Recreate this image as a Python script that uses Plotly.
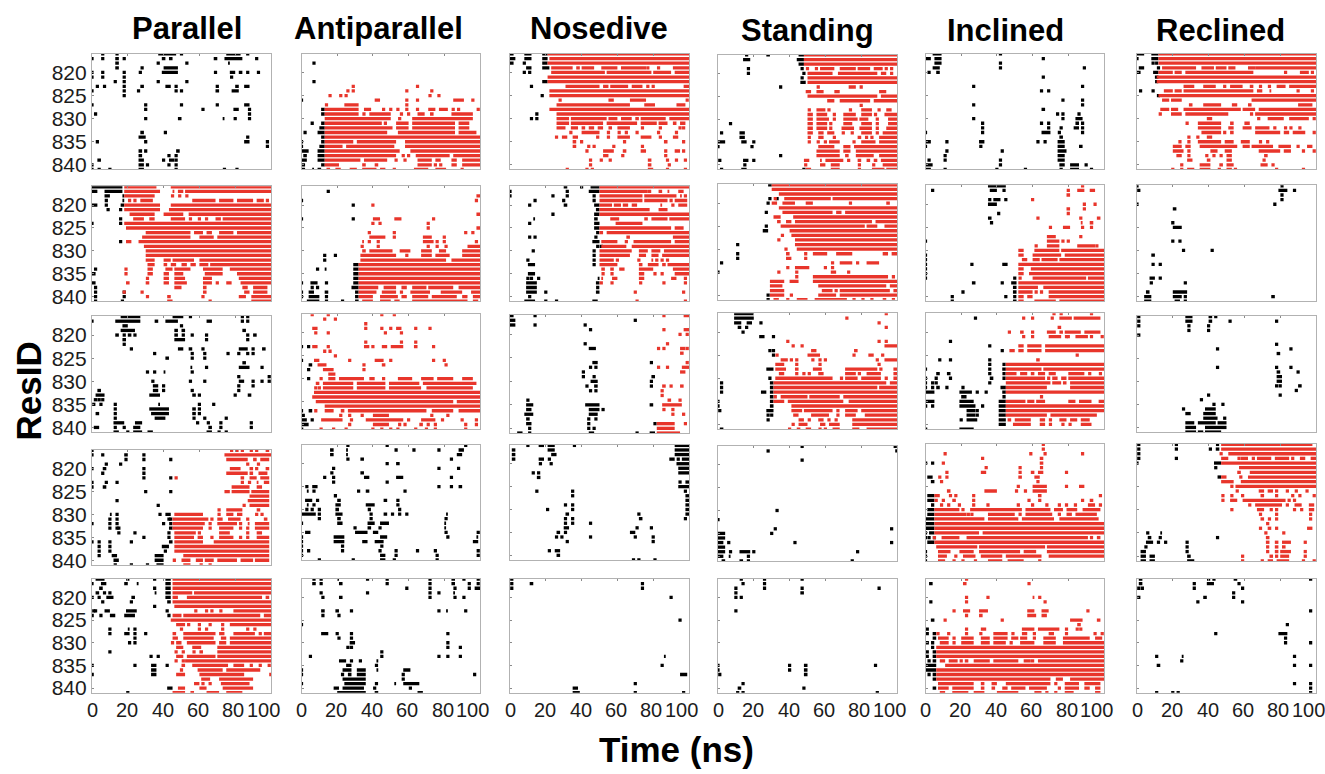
import plotly.graph_objects as go

COLUMN_TITLES = ["Parallel", "Antiparallel", "Nosedive", "Standing", "Inclined", "Reclined"]
X_TICKS = [0, 20, 40, 60, 80, 100]
X_LABELS = ["0", "20", "40", "60", "80", "100"]
Y_TICKS = [820, 825, 830, 835, 840]

# Each dict: ResID -> occupied times in ns ("a-b" is a contiguous run, "a" a single frame)
parallel_1_black = {816:"6 14 37-47 50 75-83 87",817:"0 6 13-15 18 39-41 43-45 68-70 74-84 92",818:"13-15 37 53 76-77",819:"13-15 28 40-48",820:"0 6 18 27 39-48 69 77-80 82-84 87 93",821:"0 6 18 78",822:"13 18 37 53",823:"3 7 18 27-29 41-44 47 70 80-82 85-88",824:"0 18 26 47 50 69-71 78-82",825:"18",827:"0 30 50 70 85-88",828:"30 62 79-82 88",829:"2 88",830:"30 48-50 73-74 80 88",833:"27-29 41",834:"26-30 87",835:"3 30 85-88 98",836:"98",837:"26-28 30 47-49",838:"26-28 43 47",839:"3-5 26-29 40 43-46 47",840:"0 26-29 31 43 47",841:"0 4 10 26-29 47 74 81"}
parallel_1_red = {}
antiparallel_1_black = {818:"7",822:"7",826:"0",828:"11-13",829:"11-13",831:"6 11-13",832:"10-13",833:"2 9-13",834:"11-13",835:"0 11-13",836:"0 10-13",837:"0-4 9-13",838:"1-3 9-13",839:"0-3 9-13",840:"0-2 11-13",841:"0-2 6-7 9-11"}
antiparallel_1_red = {823:"29 65",824:"26 29 59 73",825:"16 22 25 72 77",826:"41-44 59 65 85-91 96",827:"14 24-32 59",828:"13-32 35-39 46 50 54 59 65 71-75 77-82 85 88 99",829:"13-32 35 38-50 56 60 65-69 72-74 84-96",830:"13-50 55 62-96",831:"13-45 47 53-60 62-86 88-94",832:"13-51 53-60 62-86 88-94",833:"13-48 54-86 88-98",834:"13-100",835:"13-29 31-53 58-100",836:"13-23 25-52 58-100",837:"13-55 61-100",838:"13-53 57 60 64-83 85-100",839:"13-33 35-48 53 58 65-73 75-78 84-87 90-100",840:"13-21 34-36 41-43 65-73 75 78 84-87 90-100",841:"14-16 19-22 27-31 34-42 44-47 52 63-71 75-81 90"}
nosedive_1_black = {816:"0-2 8-12 18-21",817:"0-3 8-12 18-21",818:"0-2 8 18-21",819:"9-12 18-22",820:"8 11",822:"18-21",823:"12",825:"18",829:"15",830:"12 15"}
nosedive_1_red = {816:"21-100",817:"22-100",818:"21-100",819:"23-35 37-39 40-47 51-60 62-76 77 83 91-100",820:"23-53 54-79 80-90 92-100",821:"21-100",822:"21-100",823:"31-50 52-55 56-66 68-74 77 80 97-100",824:"22-100",825:"22-100",826:"28 55-58 67-76 99",827:"26-67 75-81 93-98",828:"22-100",829:"26-100",830:"26-33 34-54 55-60 62-68 70-72 73-87 89-100",831:"26-33 34-52 54-71 73-82 83-88 91-93 95-98",832:"26-31 34-38 40-42 44-47 49-52 55-57 60-67 74 84 95 97",833:"34 40-50 55 61 65 71 83 93",834:"26 29-32 35-38 49 55 60-67 73-79 84 91-94",835:"35-37 40 64 86-88 97",836:"35-37 44 47 58 74",837:"43 52-58 63-65 73-76 87 92-95 97",838:"52-55 63 87",839:"45 51 56 77-79 88 93 98",840:"45 77-79 89",841:"32 43 46 77-80 88 98"}
standing_1_black = {816:"16 27-29 45-48",817:"14-18 44-48",818:"45-48",819:"17 47",820:"17 48",821:"47",822:"46-49",823:"35",831:"7",833:"2 12-15",834:"12-15",835:"0-4 13-16 20",836:"0 19",838:"35",839:"1 14-17 20",840:"15",841:"2 13-16 48"}
standing_1_red = {816:"48-100",817:"48-100",818:"48-100",819:"50 55 57-65 68-77 78-85 87-92 94 97",820:"50-64 67-89 91-94 97",821:"50-100",822:"50-100",823:"56 73-77 80",824:"49-52 55-59 65-68 90-94",825:"50-89 91-100",826:"61-65 68-85 87-100",827:"80",828:"51 55-60 62 74 80-86 90 94-97",829:"50-53 55-61 65 70-77 80-86 88 93-100",830:"50-53 55-62 65 70-78 79-84 89 95-100",831:"50-53 55-61 63 70-75 80-86 89 95-100",832:"50-53 55-61 63 69-76 79-86 89 94-100",833:"50-53 56-59 61-65 70 75 80-86 89 92-100",834:"51 56-59 65 78-80 83 86 90-100",835:"51 56 60 62-68 76 80-88 90-100",836:"56-65 70-74 76-100",837:"55-68 70-74 77-100",838:"55-68 71-73 77-87 90-100",839:"48-51 57-58 60-70 73 78-80 83-85 87-89 91-100",840:"49 57-60 63-68 79 87 92-100",841:"49-52 63-68 79 86-93 94-100"}
inclined_1_black = {816:"4-9 42",817:"0-3 5-9 66",818:"5-9 42",819:"4-8 42 89",820:"2 6-8",821:"66",823:"27 88",824:"65 69",826:"77 88",827:"27 88",828:"65-67",829:"74 77 86",830:"27 77 84-88",831:"32 65 69 84-86 88",832:"32 69 76 83-86 88",833:"0 32 65-70 75 88",834:"75-77",835:"0-3 12 30-33 63 67 74-78",836:"0 31 74-78 86-88",837:"12 43 74-79",838:"11 74-78",839:"2 11 42 74-78",840:"0-4 42 75-78 81-86 90",841:"0-3 11 40 56 76 81-86 93"}
inclined_1_red = {}
reclined_1_black = {816:"0-4 8-12",817:"0 8-12",818:"9 11",819:"1-4 12",820:"0-2 9-12",821:"10-12",822:"11",824:"2 9",825:"12"}
reclined_1_red = {816:"12-100",817:"12-100",818:"12-100",819:"14-33 36-43 44-50 51-55 62-66 66-100",820:"12-20 21-25 27-65 83 91-96 98",821:"11-100",822:"11-100",823:"26-32 37-44 49 52-59 63-65 69 74 78-83 85-100",824:"15-20 21-25 26-65 67-70 74-75 90 98",825:"12-100",826:"14-18 19-25 64-100",827:"29-31 37-47 53-56 62-64 90-98",828:"13-18 19-23 26-58 59-66 68-100",829:"13 19-25 27-51 64 66-100",830:"39-42 68 73-82 85-96 99",831:"28 34-47 52-54 60-63",832:"34-47 51-54 59-64 66-74 77 83 86 91",833:"36-47 49 52-54 66-80 82-85 87-94 99",834:"29 34 39-42",835:"24 29 34-47 49-54 58-63 69 73",836:"20-25 27-30 35-56 59-63 64-76 79-86 90 95-98",837:"20-26 29 41-45 49-53 68-80 82-86 93 99",838:"22-25 29 39 43 47 50-53 71-73",839:"28-31 39-41 50-53 71",840:"25 35-41 46-48 50-54 69-73 76",841:"20 25 28-32 35-41 46 50-53 55 78 93"}

parallel_2_black = {816:"0-17",817:"0-3 7-17",818:"7-10 17-18",819:"8 17-18",820:"0-3 8 16-18",821:"9 16",823:"16",824:"0 16",828:"16",834:"2",835:"0-2",837:"0-2",838:"2",839:"2 18",840:"2 18",841:"2 17"}
parallel_2_red = {816:"18-36 44-100",817:"18-38 45-46 48-51 52-100",818:"18-35 45 49 53",819:"21 24 27-34 56-69 71-79 81-90 92-96 98",820:"18-38 44-100",821:"18-38 43-100",822:"21-35 40-51 54-100",823:"23-29 32-35 44-52 55 60 64 69-72 73-100",824:"18-100",825:"19-100",826:"30-55 57-62 64-67 71-79 81-100",827:"28-55 60-68 70-100",828:"19-22 26-100",829:"29-100",830:"30-100",831:"30-100",832:"30-35 40-44 45-57 60-100",833:"31-35 40-42 44-47 50-53 55-58 60-65 66-100",834:"19 31-34 41-45 46-55 62-73 77-100",835:"19 31-34 40-43 46-51 63-73 81-100",836:"31 40-43 46-52 62-67 82-100",837:"19-21 30-32 40-43 46-53 62-67 70 75-78 83-100",838:"46-50 62-64 84-87 90-98",839:"18 28 62-64 85-88 90-98",840:"31 42-44 62 82-86 89-100",841:"42-45 66 89-100"}
antiparallel_2_black = {817:"15",819:"0",820:"29",823:"0 29",831:"13 19",832:"13",833:"29-32",834:"9 13-14 29-32",835:"29-32",836:"29-32",837:"0 5-9 14 29-32",838:"6 9 28-32",839:"0 4-7 13-15 30-32",840:"0 4-10 14 30-32",841:"3-10 14 23 30-32"}
antiparallel_2_red = {818:"98-100",819:"98",820:"40",822:"98-100",823:"40-44 52-56 74",824:"40 44 71",825:"71 98-100",826:"38 52 92 96",827:"38-47 52 68-73 80",828:"34-35 38 43 68-74 76 80 98",829:"34 43 71 76 81 93-100",830:"34-36 38-51 55-61 67-73 77-81 90-100",831:"33-53 59 67-73 75-83 90-100",832:"33-81 84-100",833:"32-100",834:"32-100",835:"32-100",836:"32-100",837:"32-100",838:"32-43 46-53 56-59 62-70 71-85 88-100",839:"32-42 45-53 56 61-72 78-90 95-100",840:"32-40 44-54 56-59 62-71 73-87 90-93 96-100",841:"34-40 44-50 52-55 62-93 96-99"}
nosedive_2_black = {816:"30-32 40 45-50",817:"0 32 44-50",818:"0 24 32 47",819:"14 30 47",820:"11 30-32 47-50",821:"48-50",822:"24 47-50",823:"13-14 47-49",824:"11 47-50",825:"47-50",826:"49",827:"11 14 48",828:"46-50",829:"49 51",830:"13 47",831:"47",832:"10 47",833:"10-14 47",835:"10-14",836:"10 12 16 49-50",837:"9-15 48-50",838:"9-15 49",839:"9-15 20 48-50",840:"11",841:"8-14 20 26 46-49"}
nosedive_2_red = {816:"50-100",817:"50-77 78 83-85 88-89 94-97",818:"50-74 75-93 95-96 98",819:"50-74 75-88 90 92-99",820:"50-57 58-62 63-66 68-71 84-85 91 94-99",821:"50-78 83-88",822:"50-100",823:"56-61 75-77 79-88 89-100",824:"59-74",825:"50-90 92-97",826:"50-52 54-100",827:"65-67 91-100",828:"51-60 65 69-90 92-100",829:"51-65 68-100",830:"50-68 72-77 79-84 86-100",831:"50-67 72-76 79-83 85-100",832:"50-58 60 72 79-80 82 85 88",833:"50-60 72-74 77-83 85-87 88-100",834:"51-53 56-58 61-64 72-80 91-100",835:"52 57 72-75 81 85 92-100",836:"51-52 57-60 72-75 90-93 98",837:"51 57 73 86 98",839:"70 97",841:"71 98"}
standing_2_black = {816:"28-30",819:"29 33",820:"28",822:"27",825:"27",826:"25-28",829:"11",831:"11",832:"11",833:"2",835:"0",840:"28",841:"28"}
standing_2_red = {816:"30-100",817:"30-100",818:"34-100",819:"32 37-63 64-100",820:"30-33 36-43 49-53 74 94-96",821:"34-100",822:"36-64 66-69 71-100",823:"31-35 42-100",824:"33-35 38-41 43-86 88-100",825:"35-82 83-89 93-100",826:"40-100",827:"36 41-100",828:"34 43-100",829:"43-100",830:"38 44-100",831:"38-40 49 53-61 66-75 92-95 97-100",832:"38-41 49",833:"64 68-75 78 83-90",834:"39 43-51 60 64",835:"34 44 63-66 73",836:"44 53-95 98",837:"29-37 40-45 53-100",838:"29-36 56-94 96-100",839:"29-37 58-64 66 68-96 98-100",840:"29-37 41 56-66 68-100",841:"31-34 39 44-50 54-72 76 81 86 92-94 98"}
inclined_2_black = {816:"35-45",817:"4 36-40 44",819:"36 38-42 45",820:"35-40",822:"41",823:"35-37",824:"37",828:"0",831:"0",832:"0",833:"0 26 43-46",834:"0",835:"0",836:"0 50",837:"26-28 43 48-51",838:"49-51",839:"21 49-51",840:"15 45 50",841:"15 49-51"}
inclined_2_red = {816:"88",817:"80 85-89 92-95",818:"79-81",819:"60",820:"89 95",821:"79-81 89",822:"80",823:"63 87 96-98",824:"87-88 92-94",825:"70 77-81 88 93",827:"68-73 87",828:"68-75 77 80",829:"62 68-75 85-95 96",830:"52-55 61-75 76-100",831:"52-55 60-76 78-100",832:"54-57 60-64 65-74 75-100",833:"52-100",834:"52-55 59-100",835:"52-55 58-100",836:"53 60-90 91-100",837:"52-100",838:"52-63 66-100",839:"52-60 62 65 69-100",840:"52-55 57-60 69-100",841:"52-55 61-73 75-100"}
reclined_2_black = {816:"0 81",817:"1 79-84 88",818:"81",819:"81",820:"0 77",821:"20-22",824:"20",825:"20-25",828:"20 24",830:"26 42",831:"8-10",833:"9 13",836:"7-10 13",837:"8 27",839:"5-7 20-28",840:"4-8 20-25 27 75-77",841:"4-8 21-24 27"}
reclined_2_red = {}

parallel_3_black = {816:"16-27 45-51 55 84 87",817:"0 13-27 35-37 41-48 64-67 84 87",818:"17-20 50",819:"16-24 46-48 50-52 84-86",820:"13-15 18 20-22 24 46-48 51 56 64 87 90-92",821:"17-19 46-52 64 87",822:"18",823:"22 48-51 54-56 62 82-87 90 95-97",824:"35 56 63 76 82 87 90",825:"41-43 56 63",826:"84-86",827:"55-56 64 82-88 95",828:"31 35 40-41 56",829:"82 99",830:"34 55 63 82-85 90 95 99",831:"34-37 40 82 90",832:"3-5 34-37 40 56 82",833:"2-7 32-38 56-58 60 80 87-89",834:"1-3 4 6",835:"1 5 13 37-38 60 68",836:"13 32-43 56-58 60",837:"2-4 13 33-43 56-58 60",838:"13 35-41 57 63 75",839:"12-18 24-28 59 65 72 89",840:"1-4 13 18 23-27 65-67 72 89",841:"12-15 20 23-28 31-34 64-67 71 75"}
parallel_3_red = {}
antiparallel_3_black = {823:"0 4",826:"0",827:"4-6",828:"4",830:"4",837:"0 4-6",838:"1",839:"0-3 6",840:"0-4",841:"0-1"}
antiparallel_3_red = {816:"6 15 45 52",817:"13 19",818:"36",819:"6-9 36 45 50 53-56 64 72",820:"8 15 47 56",822:"36 56 64",823:"6-9 15 35-38 40 45-48 50-57 63-65 74",824:"13 16",825:"19",826:"7-10 27 41-46 50 74 80",827:"9-14 35 45-47 81",828:"12-18 35",829:"15-19",830:"11 15-19 21-35 38-41 46 54-62 67-74 76-85 90-96",831:"8-10 12-29 31-47 49-66 68-98",832:"8 10 12-29 31-47 49-67 70-96",833:"7-100",834:"6-100",835:"8-85 87-100",836:"13-100",837:"8 13-18 22-24 26-70 73-85 88-100",838:"22 27 34 40-49 73 82",839:"11-23 28 36-57 60 67-75 79 90 98",840:"27 40-49 55 58 66-68 71 75 92 98",841:"11 18 25 40 45 50 54 64 70 75 92"}
nosedive_3_black = {816:"0-2 14",817:"0-3 70",818:"0-3 14 42",819:"45",822:"42",823:"44-48",826:"46-49 79",827:"45 48",828:"41",829:"41 47 79-81",830:"45-49 79",831:"43 47-49 79",832:"45 48",834:"10",835:"9-13 42-50 78-80",836:"9-12 44-50 52",837:"8-13 44-49",838:"9-11 44 48",839:"9-12 44 81",840:"11 44 47",841:"4-7 11 44-47 71 78-81"}
nosedive_3_red = {816:"86 97-100",819:"86 97-100",820:"95 99",822:"88",823:"83 86 95-98 99",824:"95-97",826:"99",827:"83 88 96-100",828:"95-98",831:"85-87 90 95-97",832:"85",833:"85",834:"88-90 95",835:"85-96",836:"86 91",837:"91 97",839:"82-92 98",840:"82-92",841:"82-95"}
standing_3_black = {816:"9-20",817:"9-20",818:"9-13 16-19 24",819:"11-13 16",820:"14",821:"23-26 31",824:"29 31",825:"31",828:"27-31",830:"29",831:"2 29-31",832:"2 29-31",833:"2 24-27 29-31",834:"29-31",835:"0 29-31",836:"0 29-31",837:"1 27-31",838:"28 30",839:"28",841:"1-3"}
standing_3_red = {816:"94",817:"72",818:"90",819:"94",822:"39 90 94",823:"42 47 93-100",824:"52-55 76-78",825:"33 50-57 76 84-87 92",826:"35-39 41 44 53 57 60 89 93-100",827:"32-37 44 57 90",828:"32-38 43-45 53-58 71-89 91 98-100",829:"34-37 44 48 51 56-59 71-77 79 83-91 98-100",830:"32-64 69 71-78 80-91 94 98-100",831:"31-94 96-100",832:"31-89 90-100",833:"31-100",834:"32 35-50 51-68 70-100",835:"31-37 39-70 73-100",836:"41-100",837:"41-47 48-64 67 71-78 80-100",838:"42-45 52-62 67 71-77 82-100",839:"45-48 51 56-59 62 66 75-100",840:"42 45-50 57-60 62-68 75-100",841:"40 44-46 49-52 57 60 64-68 75-79 83-100"}
inclined_3_black = {817:"28",822:"14",823:"36",824:"43",826:"8 14 36",827:"36 44",828:"0 36 43-45",829:"6-8 12-14 36 44",830:"0 6 14 36-38 44",831:"0 4 6 36",832:"0 4 6-8 12 21 42-45",833:"0-5 19-26 29 34 43-45",834:"20-23 44",835:"0-5 19-27 41-45",836:"0-1 4 19-28 32 41-45",837:"23-28 29 41-45",838:"23-28 29 41-45",839:"20 23-29 41-45",840:"41-45",841:"0-1 19-27"}
inclined_3_red = {816:"72 76 93",817:"55 60 71 75-82 83-98",819:"74-76",820:"47 53-55 60 68-73 75-77 78-87 89-98",821:"55 60 69-76 79 80 84-91 93 99",823:"52-55 57-65 67-100",824:"47-50 52-55 57-65 67-100",825:"85",826:"62-64",827:"45-100",828:"45-65 66-100",829:"45-51 53-57 59-61 63-67 69-73 80-89 92 98",830:"45-67 69 71-74 76-79 80-100",831:"45-70 71-76 77-79 81-100",832:"45-68 81-100",833:"45-100",834:"65",835:"45-56 57-61 62-67 80-84 86-93 97-100",836:"45-100",837:"45-100",838:"45-68 70-96",839:"46-48 50-59 64-67 70 75-79 81-85 87-92",840:"49-59 64-67 70 77 81 87-93"}
reclined_3_black = {816:"1 27-31 40-42 44",817:"1 27-31 40-42 52 78",818:"1 29 40",819:"29 40",820:"1",822:"78",823:"45 86",824:"78-80",827:"45 78 86",828:"78-80 90",829:"78-81",830:"78-81",831:"78 80 90-92",832:"89",833:"40 80",834:"36",835:"43 48",836:"26 38-44",837:"27-30 37-44",838:"37-45 49",839:"27-32 34-44 45-50",840:"27-33 38-50",841:"27-33 34-37 38-47"}
reclined_3_red = {}

parallel_4_black = {816:"0",817:"0 6 18-20 29",818:"19 29 44",819:"8 16",820:"0 6-8 29",821:"6 29",822:"29 44",823:"0 8 14",824:"0 6-8",825:"30 44",827:"14",828:"37",830:"10-11 14 38 41-44",831:"10 14 43 44",832:"0 10 14 40 44",833:"10 14 15 43-45",834:"15 24 43",835:"29 43",836:"0 4 10 22 43-45",837:"4 10 39-43",838:"4 10 41",839:"4 11-14 35-40",840:"12-15 35-40",841:"13 22 31 36-40"}
parallel_4_red = {816:"78 81 84 89 92 97-99",817:"74-100",818:"75-87 90-92 94-99",819:"87 93",820:"77-83 88-90 92 97-99",821:"75-87 88-90 93-98",822:"47 83-85 88-92 94-99",823:"84 88 92-93 96-99",824:"78-88 92-95",825:"74-77 78-88 89-99",826:"88-99",827:"87-99",828:"85 88-99",829:"71 75-84 92-94",830:"46-62 71 75-79 81-84 92 95",831:"45-65 67 70-73 76-83 87 96-98",832:"45-63 66 70-81 83 87-88 91-99",833:"45-62 66 71-79 83 87 91-99",834:"46-58 60 71-77 87 92-95",835:"46-57 59-62 67 71-79 83 87 92-99",836:"46-62 68-99",837:"46-99",838:"46-99",839:"51-99",840:"46 50-55 58-62 63-68 70-81 83-90 91-99",841:"51-55 61 66"}
antiparallel_4_black = {816:"26 48 92",817:"16-18 25-26 53 63 77 88-91",818:"16-18 25-26 87-90",819:"26 33-35 84",820:"48 53-55",821:"18 77 88",822:"17 33-35",823:"13 18 35-38 53-57 84",824:"18 48",825:"3 6-9 77 84 88-90",826:"3-4 7 32 36-38 58",827:"19",828:"2-6 9 20-22 46-48 54",829:"3-4 7 19-22 36-41 54",830:"3 6 10 19-21 38 55",831:"0-8 10 19-23 39 46-48 51 55 59 81-82",832:"10 20-22 39 81",833:"0 20-23 37-41 44-49 80-81",834:"30 37-39 44 80-81",835:"2-5 30-37 40-43 81 99",836:"0 18-24 44-48 82 98-99",837:"0 18-24 34-37 41-46 96-99",838:"0 23 45",839:"0 4 23 44 53 65 75 99",840:"0 44-47 53 76 99",841:"10 29 44-47 52 76"}
antiparallel_4_red = {}
nosedive_4_black = {816:"10 16-19 21-25 36 92-100",817:"1-3 21-25 92-100",818:"1-3 23-26 92-100",819:"1-3 16-19 22 89-92 94 96-100",820:"17 23 93-100",821:"94-100",822:"13 16 94-100",823:"15-17",824:"95 98-100",825:"94-100",826:"15 35 98",827:"35 98-100",828:"98-100",829:"31 35 98-100",830:"21 35 98-100",831:"31-33 72 98-100",832:"31 35 72-74 98",833:"31 35 45",834:"30-33 71 79",835:"26-28 31 67-70",836:"26 29 45 70 80",837:"32 80",839:"22 25-28",840:"26-28",841:"69 72 81"}
nosedive_4_red = {}
standing_4_black = {816:"47 99",817:"28 99-100",819:"47",830:"33",832:"0",834:"32 97",835:"0-4 30",836:"0-4",837:"0-3 6 43 97",838:"0-4",839:"0-4 7 12-18 20 78",840:"0-3 6-7 17",841:"2-4 12-14 17 75"}
standing_4_red = {}
inclined_4_black = {820:"0-1 4",823:"1-4",824:"3-5",827:"1-5",828:"1-5",829:"4",830:"1-5",831:"1-5",832:"0-5",833:"0-5",834:"0-5",835:"0 2-5",836:"0 2 5",837:"1-5",839:"0",840:"0",841:"0"}
inclined_4_red = {816:"66",817:"66",818:"11 59 67 88",819:"32 64-66",820:"10 64-66",821:"34 53 65",822:"12 31-34 53 59-61 63-66 79",823:"8 12 52-54 61-64",824:"9 63",825:"52 60-68 79 86-89",826:"12-14 33-40 51 56 60-68",827:"5-8 14 17 27 63-65 98",828:"6 10 15-17 27 58 64 88 92-94",829:"9 13 19 27 35 52 60 68 75 79 84 91-95 98",830:"5-19 21 25-54 56-70 72-77 79-85 88-98",831:"5-23 24 26 35-50 53 56-71 75 79-82 84-96",832:"5-33 35-52 54-72 75-97",833:"5-100",834:"5-100",835:"5-30 32-100",836:"5 9-19 23-91 93 96-98",837:"5-100",838:"6-29 30-67 68-100",839:"7-14 19-27 30-53 55-62 68-100",840:"7-12 17 21-28 31-43 45-65 69-100",841:"7-11 16 21 28 35-43 46-55 64"}
reclined_4_black = {816:"1 22 45",817:"1 22 41 44-46",818:"1",819:"1 22",820:"0 43-47",821:"44",823:"45-47",835:"6 13-14",836:"6-8 13 45",837:"5-9 12 16 28",838:"5 28",839:"2-5 28",840:"2-5 7-10 28-30",841:"2-5 7-10 28-32"}
reclined_4_red = {816:"47-98",817:"47-100",818:"47 51-100",819:"47-51 57 58-62 65 67-75 77-85 87 91-94 97-100",820:"47-100",821:"57-100",822:"56-58 63-100",823:"47-50 58 62-100",824:"47-54 58-100",825:"53 55-100",826:"56 68-71 73-76 78 84 89 95",827:"48 53 59 69-71 78 87 91 99",828:"48 52-56 59-83 85 88",829:"63 66-81 84 88-92 96-99",830:"53 67-71 75 78 88 92 96-99",831:"69 78 97",832:"69-71 74 78 97",833:"73",834:"69 73-75 78 95-98",835:"72 82",836:"72-74",837:"72-74 77-79 81-86 94",838:"73 77-79 81-83",839:"73 77-79 80-86 94",840:"59 74-76 78 80-85 94",841:"59 70 73-76 78-85 93 99"}

parallel_5_black = {816:"2-7 20 35 41-44",817:"0 5-8 18-20 25-26 41-44",818:"4-6 35 41-44",819:"2-4 7 10 35-36 41-44",820:"0-1 4 8-12 22-24 41-44",821:"6 22 42-44",822:"35",823:"1 2 7-10 19-25 42",824:"0-1 5 10-13 18-24 43",827:"10 20-21 24",828:"10 18-21 24 30",829:"24",830:"21 24",832:"10",833:"33 37",835:"0-1 24 33-36 42",836:"33-36",837:"0-1 33-36",840:"42-45",841:"20"}
parallel_5_red = {816:"45-100",817:"45-100",818:"45-100",819:"45-56 57-100",820:"45-48 53-95 97-99",821:"45-100",822:"46-100",823:"58 64 67 72 79-100",824:"45-50 51-94 96-100",825:"44-100",826:"47-52 54 60 66 73 77-100",827:"50 60 64 73 87 91",828:"45-47 51-69 71-74 79-91 94 96-100",829:"45-48 51-68 72-75 77-100",830:"45 47-50 53-69 71-75 77-100",831:"47-51 56-61 70-100",832:"47 51 57 60-62 70-100",833:"47-51 53-69 70-100",834:"47 51 52-100",835:"50-52 56-76 79-85 89 94 99",836:"50 59-73 75-94",837:"47-52 60-85 99-100",838:"61-66 71-90",839:"57-60 62 66 72-88",840:"48-52 60-64 73-90",841:"45-52 55-57 64-71 75-84"}
antiparallel_5_black = {816:"7 11 20-21 37 48 72 84-86 91 99",817:"6-8 11 21-23 48 72 84-86 94 99",818:"59 72 86 94 97-100",819:"11 37 72 77 85-86",820:"12 21-23 72 86 91",823:"11-13 19-21 28 77 81-82 92",824:"12 21",826:"0",828:"11-15 20 28 82",829:"21 28",830:"27-30 82",831:"26 28 82 89",832:"45",833:"5 45 77 82 89",834:"21-25 28 33 42-43",835:"25-28 42",836:"0 23-28 31-36 42-43 57-61",837:"0 23 26-28 31-36 57 97",838:"23-36 57",839:"0 24-36 42 52-53 57-66",840:"18-21 23-35 41 61",841:"20-36 41-43 65-68"}
antiparallel_5_red = {}
nosedive_5_black = {816:"1",817:"1 11-13 74",818:"1 74",820:"90",825:"95",833:"86-87",835:"85",837:"95-99",839:"70",840:"35-38",841:"35-39 70 97"}
nosedive_5_red = {}
standing_5_black = {816:"13 26 47",817:"14 26",818:"10 26 47 90",819:"10 46-48",820:"10 13",823:"10",835:"0 40 48-50 88",836:"0 40 48-50",837:"1 48-50",839:"14",840:"11-13 48",841:"11 14 89"}
standing_5_red = {}
inclined_5_black = {817:"2-4",821:"3",825:"3-5",827:"1",828:"1 4-6",829:"4-6",830:"1 4",831:"4",832:"1 4-6",833:"1 4-6",834:"2 4-6",835:"0-6",836:"0-6",837:"2 4-6",838:"4-6",840:"4-6"}
inclined_5_red = {816:"23",817:"21-23 58",820:"23 35 60-61 64",821:"23 67",823:"16 21-25 30-35 57-61 65-69 91",824:"23 30-32 57-62 65-68",825:"11 43 81-88 96-98",826:"85-87",827:"23 31-34 54-61 63-75 79 85 87",828:"7 13 23 31 38-46 49 54-57 61 69-72 79 95 99",829:"7-13 16 20-27 31-36 38-46 48-52 53-57 61 66-73 77-92 95-99",830:"8-13 16 20-27 31-36 38-45 48 53-61 66-73 77-100",831:"6-100",832:"6-100",833:"6-100",834:"8-11 13-18 20 22-24 27-36 38-52 55-59 60 63-100",835:"11-100",836:"6-100",837:"6-100",838:"6-70 73-77 81-100",839:"7-27 31-33 37-40 45-70 73 78-86 89-98",840:"7-13 15-27 31-33 37-39 43-46 48-56 58-68 75 78-86 89-92 95-98",841:"8-11 15-24 27-33 40-52 61-65 68 73 78-83 95-98"}
reclined_5_black = {816:"1-3 40 43 54-56 97",817:"1-3 32 39-43 57",818:"1 3 32 59",819:"54",820:"1 37-39 54",821:"34 59",823:"97",826:"84",828:"44 79-84",829:"83",830:"83 97",833:"11 25-26 88",834:"25",835:"11-13 88 97",839:"88 97",840:"97",841:"11 20 23 97"}
reclined_5_red = {}

PANELS = [
    [(parallel_1_black, parallel_1_red), (antiparallel_1_black, antiparallel_1_red), (nosedive_1_black, nosedive_1_red), (standing_1_black, standing_1_red), (inclined_1_black, inclined_1_red), (reclined_1_black, reclined_1_red)],
    [(parallel_2_black, parallel_2_red), (antiparallel_2_black, antiparallel_2_red), (nosedive_2_black, nosedive_2_red), (standing_2_black, standing_2_red), (inclined_2_black, inclined_2_red), (reclined_2_black, reclined_2_red)],
    [(parallel_3_black, parallel_3_red), (antiparallel_3_black, antiparallel_3_red), (nosedive_3_black, nosedive_3_red), (standing_3_black, standing_3_red), (inclined_3_black, inclined_3_red), (reclined_3_black, reclined_3_red)],
    [(parallel_4_black, parallel_4_red), (antiparallel_4_black, antiparallel_4_red), (nosedive_4_black, nosedive_4_red), (standing_4_black, standing_4_red), (inclined_4_black, inclined_4_red), (reclined_4_black, reclined_4_red)],
    [(parallel_5_black, parallel_5_red), (antiparallel_5_black, antiparallel_5_red), (nosedive_5_black, nosedive_5_red), (standing_5_black, standing_5_red), (inclined_5_black, inclined_5_red), (reclined_5_black, reclined_5_red)],
]

# Page geometry, pixels
W, H = 1325, 774
COL_LEFT = [92, 301.5, 510, 718, 925.5, 1137]
COL_RIGHT = [271, 480, 689, 897, 1104, 1316]
ROW_TOP = [[54, 54, 54, 55, 54, 54], [188, 188, 188, 186, 187, 187], [319, 317, 318, 316, 316, 319], [454, 449, 449, 450, 448, 448], [584, 584, 584, 584, 584, 584]]
ROW_BOTTOM = [[171, 171, 171, 171, 171, 171], [304, 304, 304, 302.5, 304, 304], [436, 433, 437, 433, 433, 436], [570, 565, 565, 566, 566, 566], [699, 699, 699, 699, 699, 699]]
TITLE_POS = [(187, 29), (378, 29), (599, 29), (807, 31), (1005, 31), (1220, 31)]
X_LABEL_AT = [0, 19.5, 39.5, 59, 79, 96]

BLACK, RED, FRAME, TEXT = "#000000", "#e8352b", "#b2b2b2", "#1c1c1c"
FONT = "Liberation Sans"


def runs_to_xy(rows):
    xs, ys = [], []
    for res, text in rows.items():
        for tok in text.split():
            if "-" in tok:
                a, b = tok.split("-")
                a, b = float(a), float(b)
            else:
                a, b = float(tok) - 0.9, float(tok) + 0.9
            xs += [a, b, None]
            ys += [res, res, None]
    return xs, ys


fig = go.Figure()
layout = {}
annotations = []
for r in range(5):
    for c in range(6):
        idx = r * 6 + c + 1
        suffix = "" if idx == 1 else str(idx)
        blk, red = PANELS[r][c]
        for rows, colour in ((blk, BLACK), (red, RED)):
            if rows:
                xs, ys = runs_to_xy(rows)
                fig.add_trace(go.Scatter(x=xs, y=ys, mode="lines", xaxis="x" + suffix, yaxis="y" + suffix,
                                         line=dict(color=colour, width=3.3), hoverinfo="skip", showlegend=False))
        layout["xaxis" + suffix] = dict(
            domain=[COL_LEFT[c] / W, COL_RIGHT[c] / W], range=[0, 100], anchor="y" + suffix, side="top",
            tickvals=X_TICKS, ticks="inside", ticklen=2, tickcolor="#8a8a8a", tickwidth=1, showticklabels=False,
            showgrid=False, zeroline=False, showline=True, linecolor=FRAME, linewidth=1.2, mirror=True)
        layout["yaxis" + suffix] = dict(
            domain=[1 - ROW_BOTTOM[r][c] / H, 1 - ROW_TOP[r][c] / H], range=[841, 815.9], anchor="x" + suffix,
            tickvals=Y_TICKS, ticks="inside", ticklen=2, tickcolor="#8a8a8a", tickwidth=1,
            showticklabels=c == 0, tickfont=dict(family=FONT, size=21, color=TEXT),
            showgrid=False, zeroline=False, showline=True, linecolor=FRAME, linewidth=1.2, mirror=True)
        if r == 4:
            for at, label in zip(X_LABEL_AT, X_LABELS):
                annotations.append(dict(x=at, xref="x" + suffix, y=1 - 716.5 / H, yref="paper", text=label,
                                        showarrow=False, xanchor="center", yanchor="middle",
                                        font=dict(family=FONT, size=20, color=TEXT)))

for title, (px, py) in zip(COLUMN_TITLES, TITLE_POS):
    annotations.append(dict(x=px / W, y=1 - py / H, xref="paper", yref="paper", text="<b>%s</b>" % title,
                            showarrow=False, xanchor="center", yanchor="middle",
                            font=dict(family=FONT, size=31, color="#000000")))
annotations.append(dict(x=28 / W, y=1 - 395 / H, xref="paper", yref="paper", text="<b>ResID</b>", textangle=-90,
                        showarrow=False, xanchor="center", yanchor="middle",
                        font=dict(family=FONT, size=35, color="#000000")))
annotations.append(dict(x=676 / W, y=1 - 756 / H, xref="paper", yref="paper", text="<b>Time (ns)</b>",
                        showarrow=False, xanchor="center", yanchor="middle",
                        font=dict(family=FONT, size=35, color="#000000")))

fig.update_layout(width=W, height=H, margin=dict(l=0, r=0, t=0, b=0), autosize=False,
                  paper_bgcolor="white", plot_bgcolor="white", showlegend=False,
                  annotations=annotations, **layout)
fig.write_html("out.html", config={"displayModeBar": False},
               post_script="document.body.style.margin='0';document.body.style.overflow='hidden';")
